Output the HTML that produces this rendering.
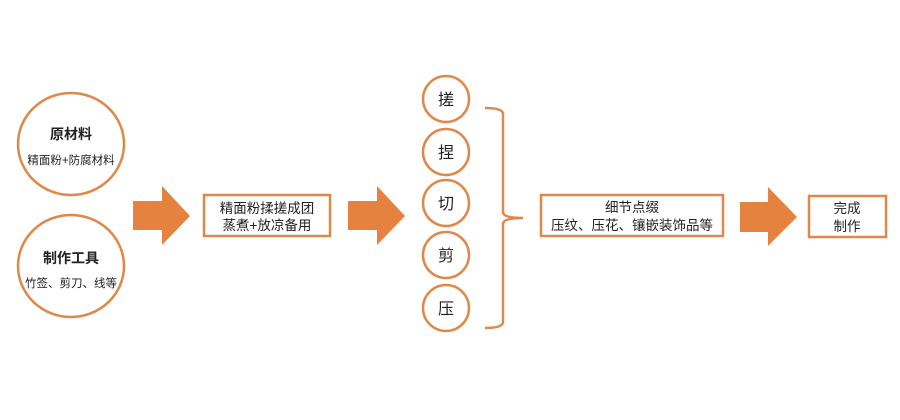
<!DOCTYPE html>
<html><head><meta charset="utf-8"><style>
html,body{margin:0;padding:0;background:#fff;}
svg{display:block;}
text{font-family:"Liberation Sans","Noto Sans CJK SC",sans-serif;fill:#222;}
</style></head><body>
<svg width="900" height="420" viewBox="0 0 900 420" xmlns="http://www.w3.org/2000/svg">
<g fill="none" stroke="#e0884a" stroke-width="2.5">
<ellipse cx="71" cy="144" rx="53" ry="51"/>
<ellipse cx="71" cy="266" rx="53" ry="51"/>
<rect x="204" y="195" width="126" height="41"/>
<circle cx="446" cy="99" r="23"/>
<circle cx="446" cy="152" r="23"/>
<circle cx="446" cy="203" r="23"/>
<circle cx="446" cy="255" r="23"/>
<circle cx="446" cy="308" r="23"/>
<path d="M485 108 Q503 108 503 114 L503 212 Q503 218 523 218 Q503 218 503 224 L503 322 Q503 328 485 328"/>
<rect x="541" y="195" width="182" height="41"/>
<rect x="809" y="196" width="77" height="41"/>
</g>
<g fill="#e5823f">
<polygon points="133,201 162,201 162,186 190,216 162,245 162,230 133,230"/>
<polygon points="348,201 377,201 377,186 405,216 377,245 377,230 348,230"/>
<polygon points="740,202 768,202 768,187 797,217 768,246 768,232 740,232"/>
</g>
<g text-anchor="middle">
<text x="71" y="139" font-size="14" font-weight="bold">原材料</text>
<text x="71" y="164" font-size="11.5">精面粉+防腐材料</text>
<text x="71" y="263" font-size="14" font-weight="bold">制作工具</text>
<text x="71" y="287" font-size="11.5">竹签、剪刀、线等</text>
<text x="267" y="213" font-size="13.5">精面粉揉搓成团</text>
<text x="267" y="230" font-size="13.5">蒸煮+放凉备用</text>
<text x="446" y="105" font-size="16">搓</text>
<text x="446" y="158" font-size="16">捏</text>
<text x="446" y="209" font-size="16">切</text>
<text x="446" y="261" font-size="16">剪</text>
<text x="446" y="314" font-size="16">压</text>
<text x="632" y="212" font-size="13.5">细节点缀</text>
<text x="632" y="230" font-size="13.5">压纹、压花、镶嵌装饰品等</text>
<text x="847" y="213" font-size="13.5">完成</text>
<text x="847" y="231" font-size="13.5">制作</text>
</g>
</svg>
</body></html>
